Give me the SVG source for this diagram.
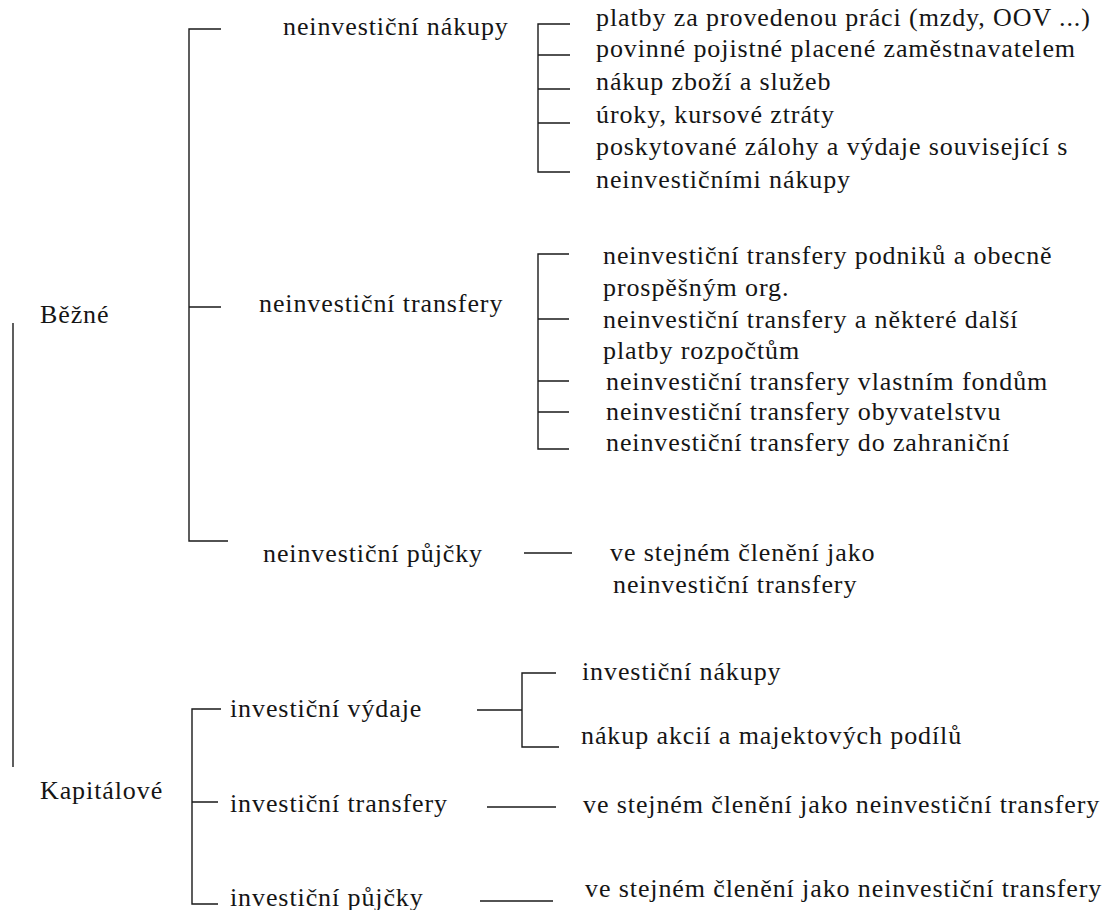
<svg xmlns="http://www.w3.org/2000/svg" width="1103" height="910" viewBox="0 0 1103 910">
<style>
.c path{fill:none;stroke:#1a1a1a;stroke-width:1.4}
</style>
<rect width="1103" height="910" fill="#ffffff"/>
<g class="c" id="connectors">
<path d="M13 323V767"/>
<path d="M221 29H189V541H228M189 307H221"/>
<path d="M570 24H538V172H570M538 55H570M538 89H570M538 123H570"/>
<path d="M569 254H538V449H569M538 319H569M538 381H569M538 412H569"/>
<path d="M524 553H572"/>
<path d="M221 709H192V904H218M192 802H218"/>
<path d="M477 710H522M556 673H522V747H559"/>
<path d="M487 807H556"/>
<path d="M480 901H553"/>
</g>
<g fill="#151515">
<g id="bezne"><text x="40" y="323" font-family="Liberation Serif" font-size="26" letter-spacing="0.9">Běžné</text></g>
<g id="kapitalove"><text x="40" y="799" font-family="Liberation Serif" font-size="26" letter-spacing="0.9">Kapitálové</text></g>
<g id="neinv-nakupy"><text x="283" y="35" font-family="Liberation Serif" font-size="26" letter-spacing="0.9">neinvestiční nákupy</text></g>
<g id="neinv-transfery"><text x="259" y="312" font-family="Liberation Serif" font-size="26" letter-spacing="0.9">neinvestiční transfery</text></g>
<g id="neinv-pujcky"><text x="263" y="562" font-family="Liberation Serif" font-size="26" letter-spacing="0.9">neinvestiční půjčky</text></g>
<g id="inv-vydaje"><text x="230" y="717" font-family="Liberation Serif" font-size="26" letter-spacing="0.9">investiční výdaje</text></g>
<g id="inv-transfery"><text x="230" y="812" font-family="Liberation Serif" font-size="26" letter-spacing="0.9">investiční transfery</text></g>
<g id="inv-pujcky"><text x="230" y="906" font-family="Liberation Serif" font-size="26" letter-spacing="0.9">investiční půjčky</text></g>
<g id="nak-1"><text x="596" y="26" font-family="Liberation Serif" font-size="26" letter-spacing="0.9">platby za provedenou práci (mzdy, OOV ...)</text></g>
<g id="nak-2"><text x="596" y="57" font-family="Liberation Serif" font-size="26" letter-spacing="0.9">povinné pojistné placené zaměstnavatelem</text></g>
<g id="nak-3"><text x="596" y="90" font-family="Liberation Serif" font-size="26" letter-spacing="0.9">nákup zboží a služeb</text></g>
<g id="nak-4"><text x="596" y="123" font-family="Liberation Serif" font-size="26" letter-spacing="0.9">úroky, kursové ztráty</text></g>
<g id="nak-5"><text x="596" y="155" font-family="Liberation Serif" font-size="26" letter-spacing="0.9">poskytované zálohy a výdaje související s</text><text x="596" y="188" font-family="Liberation Serif" font-size="26" letter-spacing="0.9">neinvestičními nákupy</text></g>
<g id="tr-1"><text x="603" y="264" font-family="Liberation Serif" font-size="26" letter-spacing="0.9">neinvestiční transfery podniků a obecně</text><text x="603" y="296" font-family="Liberation Serif" font-size="26" letter-spacing="0.9">prospěšným org.</text></g>
<g id="tr-2"><text x="603" y="328" font-family="Liberation Serif" font-size="26" letter-spacing="0.9">neinvestiční transfery a některé další</text><text x="603" y="359" font-family="Liberation Serif" font-size="26" letter-spacing="0.9">platby rozpočtům</text></g>
<g id="tr-3"><text x="606" y="390" font-family="Liberation Serif" font-size="26" letter-spacing="0.9">neinvestiční transfery vlastním fondům</text></g>
<g id="tr-4"><text x="606" y="420" font-family="Liberation Serif" font-size="26" letter-spacing="0.9">neinvestiční transfery obyvatelstvu</text></g>
<g id="tr-5"><text x="606" y="451" font-family="Liberation Serif" font-size="26" letter-spacing="0.9">neinvestiční transfery do zahraniční</text></g>
<g id="pujcky-det"><text x="610" y="561" font-family="Liberation Serif" font-size="26" letter-spacing="0.9">ve stejném členění jako</text><text x="613" y="593" font-family="Liberation Serif" font-size="26" letter-spacing="0.9">neinvestiční transfery</text></g>
<g id="inv-nakupy"><text x="582" y="680" font-family="Liberation Serif" font-size="26" letter-spacing="0.9">investiční nákupy</text></g>
<g id="inv-akcie"><text x="581" y="744" font-family="Liberation Serif" font-size="26" letter-spacing="0.9">nákup akcií a majektových podílů</text></g>
<g id="inv-tr-det"><text x="583" y="813" font-family="Liberation Serif" font-size="26" letter-spacing="0.9">ve stejném členění jako neinvestiční transfery</text></g>
<g id="inv-pu-det"><text x="585" y="897" font-family="Liberation Serif" font-size="26" letter-spacing="0.9">ve stejném členění jako neinvestiční transfery</text></g>
</g>
</svg>
